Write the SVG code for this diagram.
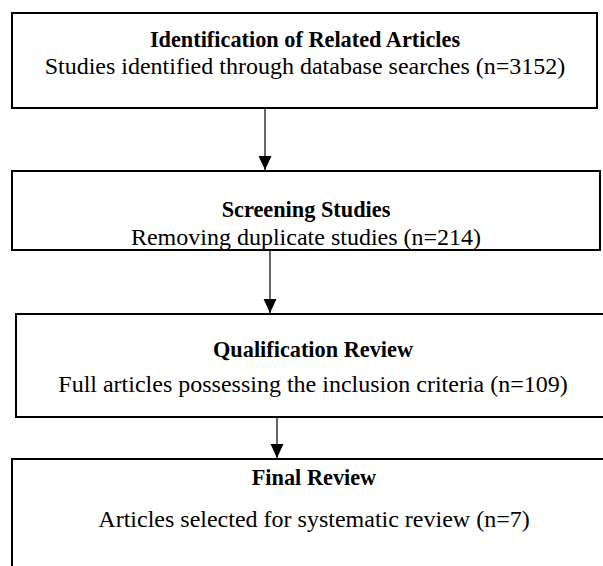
<svg xmlns="http://www.w3.org/2000/svg" width="603" height="566" viewBox="0 0 603 566">
<style>
.box{fill:#fff;stroke:#000;stroke-width:2}
.t{font-family:"Liberation Serif","Times New Roman",serif;font-weight:bold;font-size:22.3px;text-anchor:middle;fill:#000}
.b{font-family:"Liberation Serif","Times New Roman",serif;font-size:24px;text-anchor:middle;fill:#000}
.c{stroke:#000;stroke-width:1.2;fill:none}
</style>
<defs>
<marker id="ah" markerUnits="userSpaceOnUse" markerWidth="14" markerHeight="14" viewBox="0 0 13 12" refX="13" refY="6" orient="auto">
<path d="M0,0 L13,6 L0,12 Z" fill="#000"/>
</marker>
</defs>
<rect width="603" height="566" fill="#fff"/>
<g id="connectors">
<line class="c" x1="265" y1="108" x2="265" y2="170" marker-end="url(#ah)"/>
<line class="c" x1="270" y1="250" x2="270" y2="313" marker-end="url(#ah)"/>
<line class="c" x1="277" y1="417" x2="277" y2="458" marker-end="url(#ah)"/>
</g>
<g id="identification">
<rect class="box" x="12" y="13" width="585" height="95"/>
<text class="t" x="305" y="47">Identification of Related Articles</text>
<text class="b" x="305" y="74">Studies identified through database searches (n=3152)</text>
</g>
<g id="screening">
<rect class="box" x="12" y="171" width="588" height="79"/>
<text class="t" x="306" y="217">Screening Studies</text>
<text class="b" x="306" y="245">Removing duplicate studies (n=214)</text>
</g>
<g id="qualification">
<rect class="box" x="16" y="314" width="600" height="103"/>
<text class="t" x="313" y="357">Qualification Review</text>
<text class="b" x="313" y="392">Full articles possessing the inclusion criteria (n=109)</text>
</g>
<g id="final">
<rect class="box" x="12" y="459" width="600" height="120"/>
<text class="t" x="314" y="485">Final Review</text>
<text class="b" x="314" y="527">Articles selected for systematic review (n=7)</text>
</g>
</svg>
